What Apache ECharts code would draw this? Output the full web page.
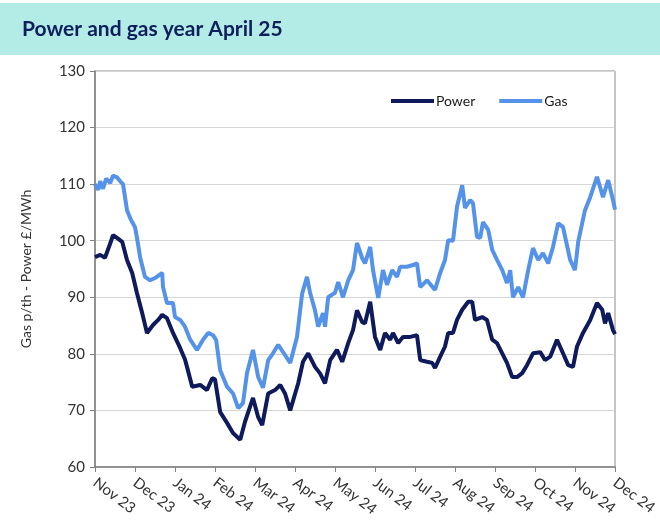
<!DOCTYPE html>
<html lang="en">
<head>
    <meta charset="UTF-8">
    <title>Power and gas year April 25</title>
    <script src="https://cdn.jsdelivr.net/npm/echarts@6/dist/echarts.min.js"></script>
    <style>
        html, body { margin: 0; padding: 0; background: #fff; }
        #chart { width: 660px; height: 530px; }
    </style>
</head>
<body>
<div id="chart"></div>
<script>
    // month labels, one per tick (0 = start of Nov 23)
    var months = ['Nov 23','Dec 23','Jan 24','Feb 24','Mar 24','Apr 24','May 24',
                  'Jun 24','Jul 24','Aug 24','Sep 24','Oct 24','Nov 24','Dec 24'];

    // position in months from Nov 23
    var gasAt = [0,0.08,0.13,0.2,0.28,0.38,0.45,0.55,0.63,0.7,0.8,0.88,0.93,1,1.05,1.13,1.25,1.38,1.5,1.68,
        1.7,1.8,1.95,2,2.13,2.25,2.38,2.55,2.7,2.83,2.95,3.03,3.13,3.3,3.45,3.58,3.7,3.8,3.95,4.08,
        4.2,4.33,4.45,4.58,4.75,4.88,5.05,5.18,5.3,5.38,5.5,5.58,5.7,5.75,5.83,6,6.08,6.2,6.33,6.45,
        6.55,6.68,6.75,6.88,6.95,7.08,7.2,7.3,7.43,7.55,7.63,7.8,7.95,8.05,8.13,8.3,8.5,8.63,8.75,8.83,
        8.95,9.05,9.18,9.25,9.38,9.45,9.55,9.63,9.7,9.83,9.93,10.05,10.18,10.3,10.38,10.45,10.58,10.7,10.83,10.95,
        11.08,11.2,11.33,11.45,11.58,11.7,11.88,12,12.08,12.25,12.38,12.55,12.7,12.83,12.95,13];
    var gas = [110,109,110.5,109.2,111,110.2,111.5,111.2,110.5,110,105.4,104,103.3,102.4,100.5,97,93.6,93,93.4,94.3,
        91.8,89,89,86.5,86,84.8,82.5,80.7,82.5,83.7,83.3,82.4,77.1,74.2,73,70.4,71.3,76.6,80.7,75.9,
        74,78.9,80.1,81.6,79.8,78.4,83,90.7,93.6,90.7,87.7,84.8,87.2,84.8,90,90.8,92.7,90,93,94.8,
        99.6,96.9,96,98.9,94.8,89.9,94.8,92.2,94.8,93.6,95.4,95.4,95.7,96,91.8,93,91.3,94.3,96.6,100.1,
        100,106,109.8,105.8,107.2,106.6,100.7,100.5,103.3,101.9,98.4,96.6,94.8,92.5,94.8,90,91.8,90,94.8,98.7,
        96.6,97.8,96,98.9,103.1,102.4,96.6,94.8,99.8,105.4,107.7,111.3,107.7,110.7,107.2,105.5];

    var powerAt = [0,0.13,0.25,0.38,0.45,0.55,0.68,0.8,0.93,1.05,1.18,1.3,1.45,1.58,1.68,1.8,1.95,2.13,2.25,2.3,
        2.43,2.63,2.8,2.93,3,3.13,3.3,3.45,3.63,3.75,3.95,4.08,4.18,4.33,4.5,4.63,4.75,4.88,5.08,5.2,
        5.33,5.5,5.63,5.75,5.88,6.05,6.18,6.33,6.45,6.55,6.68,6.75,6.88,7,7.13,7.25,7.38,7.45,7.58,7.7,
        7.88,8.05,8.13,8.3,8.43,8.5,8.63,8.75,8.83,8.95,9.05,9.18,9.33,9.43,9.5,9.68,9.8,9.93,10.05,10.18,
        10.3,10.43,10.55,10.68,10.8,10.95,11.13,11.25,11.38,11.55,11.7,11.83,11.95,12.05,12.2,12.38,12.55,12.68,12.75,12.83,
        12.95,13];
    var power = [97.1,97.5,97,99.5,101,100.5,99.8,96.6,94.3,90.7,87.2,83.7,85.1,86,86.9,86.3,83.7,81,79,77.7,
        74.2,74.5,73.6,75.7,75.5,69.7,67.8,66,64.8,68,72.2,68.8,67.4,73,73.6,74.5,73,70,74.8,78.6,
        80.1,77.7,76.5,74.8,78.9,80.7,78.6,81.9,84.2,87.7,85.6,85.4,89.2,83,80.7,83.7,82.5,83.7,81.9,83,
        83,83.3,78.9,78.6,78.4,77.5,79.5,81.3,83.7,83.7,86,87.8,89.2,89.2,86,86.5,86,82.5,81.9,80.1,
        78.4,75.9,75.9,76.6,78,80.1,80.3,78.9,79.5,82.5,80.1,78,77.7,81.3,83.7,86,89,87.8,85.4,87.2,
        84.2,83.5];

    function pairs(xs, ys) {
        return xs.map(function (x, i) { return [x, ys[i]]; });
    }

    var chart = echarts.init(document.getElementById('chart'));

    var textFont = 'Lato, "Open Sans", sans-serif';

    var option = {
        backgroundColor: '#fff',
        animation: false,
        textStyle: { fontFamily: textFont },
        graphic: [{
            type: 'rect',
            left: 0,
            top: 3,
            shape: { width: 660, height: 52 },
            style: { fill: '#b3ebe6' },
            z: -1
        }],
        title: {
            text: 'Power and gas year April 25',
            left: 17,
            top: 14,
            textStyle: { fontFamily: textFont, fontWeight: 'bold', fontSize: 21, color: '#0f1f5c' }
        },
        legend: {
            left: 386,
            top: 89,
            icon: 'rect',
            itemWidth: 43,
            itemHeight: 4,
            itemGap: 24,
            textStyle: { fontSize: 14, color: '#1a1a1a', padding: [0, 0, 0, -3] },
            data: ['Power', 'Gas']
        },
        grid: {
            left: 95, right: 45, top: 71, bottom: 63,
            show: true,
            borderColor: '#8a8a8a',
            borderWidth: 1
        },
        xAxis: {
            type: 'value',
            min: 0, max: 13, interval: 1,
            axisLine: { lineStyle: { color: '#808080', width: 1.5 } },
            axisTick: { show: true, length: 5, lineStyle: { color: '#808080' } },
            splitLine: { show: false },
            axisLabel: {
                rotate: -37,
                fontSize: 15,
                color: '#333',
                margin: 14,
                formatter: function (v) { return months[Math.round(v)]; }
            }
        },
        yAxis: {
            type: 'value',
            min: 60, max: 130, interval: 10,
            name: 'Gas p/th - Power £/MWh',
            nameLocation: 'middle',
            nameGap: 62,
            nameTextStyle: { fontSize: 14, color: '#333' },
            axisLine: { show: true, lineStyle: { color: '#808080', width: 1.5 } },
            axisTick: { show: true, length: 5, lineStyle: { color: '#808080' } },
            splitLine: { lineStyle: { color: '#d6d6d6', width: 1.2 } },
            axisLabel: { fontSize: 15, color: '#333', margin: 10 }
        },
        series: [
            {
                name: 'Power',
                type: 'line',
                data: pairs(powerAt, power),
                showSymbol: false,
                lineStyle: { color: '#0e1a5b', width: 4 },
                itemStyle: { color: '#0e1a5b' },
                z: 3
            },
            {
                name: 'Gas',
                type: 'line',
                data: pairs(gasAt, gas),
                showSymbol: false,
                lineStyle: { color: '#5592ea', width: 4 },
                itemStyle: { color: '#5592ea' },
                z: 2
            }
        ]
    };

    chart.setOption(option);
</script>
</body>
</html>
